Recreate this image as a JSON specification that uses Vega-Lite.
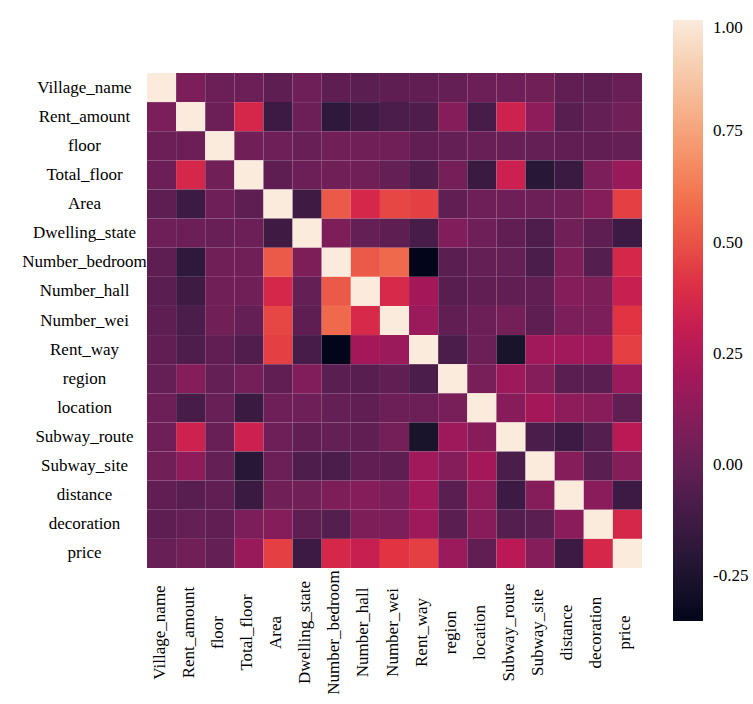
{
  "$schema": "https://vega.github.io/schema/vega-lite/v6.json",
  "width": 495,
  "height": 495,
  "autosize": {"type": "none"},
  "padding": {"left": 147, "top": 73, "right": 111, "bottom": 136},
  "background": "white",
  "data": {
    "values": [
      {"row": "Village_name", "col": "Village_name", "r": 1},
      {"row": "Village_name", "col": "Rent_amount", "r": 0.07},
      {"row": "Village_name", "col": "floor", "r": 0.02},
      {"row": "Village_name", "col": "Total_floor", "r": 0.02},
      {"row": "Village_name", "col": "Area", "r": -0.02},
      {"row": "Village_name", "col": "Dwelling_state", "r": 0.03},
      {"row": "Village_name", "col": "Number_bedroom", "r": -0.02},
      {"row": "Village_name", "col": "Number_hall", "r": -0.03},
      {"row": "Village_name", "col": "Number_wei", "r": -0.02},
      {"row": "Village_name", "col": "Rent_way", "r": -0.01},
      {"row": "Village_name", "col": "region", "r": 0.0},
      {"row": "Village_name", "col": "location", "r": 0.02},
      {"row": "Village_name", "col": "Subway_route", "r": 0.03},
      {"row": "Village_name", "col": "Subway_site", "r": 0.04},
      {"row": "Village_name", "col": "distance", "r": -0.01},
      {"row": "Village_name", "col": "decoration", "r": -0.02},
      {"row": "Village_name", "col": "price", "r": 0.01},

      {"row": "Rent_amount", "col": "Village_name", "r": 0.07},
      {"row": "Rent_amount", "col": "Rent_amount", "r": 1},
      {"row": "Rent_amount", "col": "floor", "r": 0.02},
      {"row": "Rent_amount", "col": "Total_floor", "r": 0.37},
      {"row": "Rent_amount", "col": "Area", "r": -0.13},
      {"row": "Rent_amount", "col": "Dwelling_state", "r": 0.02},
      {"row": "Rent_amount", "col": "Number_bedroom", "r": -0.18},
      {"row": "Rent_amount", "col": "Number_hall", "r": -0.12},
      {"row": "Rent_amount", "col": "Number_wei", "r": -0.08},
      {"row": "Rent_amount", "col": "Rent_way", "r": -0.07},
      {"row": "Rent_amount", "col": "region", "r": 0.1},
      {"row": "Rent_amount", "col": "location", "r": -0.09},
      {"row": "Rent_amount", "col": "Subway_route", "r": 0.34},
      {"row": "Rent_amount", "col": "Subway_site", "r": 0.13},
      {"row": "Rent_amount", "col": "distance", "r": -0.04},
      {"row": "Rent_amount", "col": "decoration", "r": 0.0},
      {"row": "Rent_amount", "col": "price", "r": 0.04},

      {"row": "floor", "col": "Village_name", "r": 0.02},
      {"row": "floor", "col": "Rent_amount", "r": 0.02},
      {"row": "floor", "col": "floor", "r": 1},
      {"row": "floor", "col": "Total_floor", "r": 0.04},
      {"row": "floor", "col": "Area", "r": 0.03},
      {"row": "floor", "col": "Dwelling_state", "r": 0.01},
      {"row": "floor", "col": "Number_bedroom", "r": 0.04},
      {"row": "floor", "col": "Number_hall", "r": 0.04},
      {"row": "floor", "col": "Number_wei", "r": 0.04},
      {"row": "floor", "col": "Rent_way", "r": -0.01},
      {"row": "floor", "col": "region", "r": 0.0},
      {"row": "floor", "col": "location", "r": 0.01},
      {"row": "floor", "col": "Subway_route", "r": 0.01},
      {"row": "floor", "col": "Subway_site", "r": 0.0},
      {"row": "floor", "col": "distance", "r": -0.01},
      {"row": "floor", "col": "decoration", "r": -0.01},
      {"row": "floor", "col": "price", "r": 0.0},

      {"row": "Total_floor", "col": "Village_name", "r": 0.02},
      {"row": "Total_floor", "col": "Rent_amount", "r": 0.37},
      {"row": "Total_floor", "col": "floor", "r": 0.04},
      {"row": "Total_floor", "col": "Total_floor", "r": 1},
      {"row": "Total_floor", "col": "Area", "r": -0.02},
      {"row": "Total_floor", "col": "Dwelling_state", "r": 0.02},
      {"row": "Total_floor", "col": "Number_bedroom", "r": 0.04},
      {"row": "Total_floor", "col": "Number_hall", "r": 0.04},
      {"row": "Total_floor", "col": "Number_wei", "r": 0.0},
      {"row": "Total_floor", "col": "Rent_way", "r": -0.06},
      {"row": "Total_floor", "col": "region", "r": 0.05},
      {"row": "Total_floor", "col": "location", "r": -0.14},
      {"row": "Total_floor", "col": "Subway_route", "r": 0.33},
      {"row": "Total_floor", "col": "Subway_site", "r": -0.2},
      {"row": "Total_floor", "col": "distance", "r": -0.14},
      {"row": "Total_floor", "col": "decoration", "r": 0.07},
      {"row": "Total_floor", "col": "price", "r": 0.16},

      {"row": "Area", "col": "Village_name", "r": -0.02},
      {"row": "Area", "col": "Rent_amount", "r": -0.13},
      {"row": "Area", "col": "floor", "r": 0.03},
      {"row": "Area", "col": "Total_floor", "r": -0.02},
      {"row": "Area", "col": "Area", "r": 1},
      {"row": "Area", "col": "Dwelling_state", "r": -0.12},
      {"row": "Area", "col": "Number_bedroom", "r": 0.52},
      {"row": "Area", "col": "Number_hall", "r": 0.37},
      {"row": "Area", "col": "Number_wei", "r": 0.47},
      {"row": "Area", "col": "Rent_way", "r": 0.45},
      {"row": "Area", "col": "region", "r": -0.01},
      {"row": "Area", "col": "location", "r": 0.03},
      {"row": "Area", "col": "Subway_route", "r": 0.03},
      {"row": "Area", "col": "Subway_site", "r": 0.02},
      {"row": "Area", "col": "distance", "r": 0.04},
      {"row": "Area", "col": "decoration", "r": 0.1},
      {"row": "Area", "col": "price", "r": 0.45},

      {"row": "Dwelling_state", "col": "Village_name", "r": 0.03},
      {"row": "Dwelling_state", "col": "Rent_amount", "r": 0.02},
      {"row": "Dwelling_state", "col": "floor", "r": 0.01},
      {"row": "Dwelling_state", "col": "Total_floor", "r": 0.02},
      {"row": "Dwelling_state", "col": "Area", "r": -0.12},
      {"row": "Dwelling_state", "col": "Dwelling_state", "r": 1},
      {"row": "Dwelling_state", "col": "Number_bedroom", "r": 0.08},
      {"row": "Dwelling_state", "col": "Number_hall", "r": 0.0},
      {"row": "Dwelling_state", "col": "Number_wei", "r": -0.02},
      {"row": "Dwelling_state", "col": "Rent_way", "r": -0.09},
      {"row": "Dwelling_state", "col": "region", "r": 0.09},
      {"row": "Dwelling_state", "col": "location", "r": 0.03},
      {"row": "Dwelling_state", "col": "Subway_route", "r": -0.01},
      {"row": "Dwelling_state", "col": "Subway_site", "r": -0.07},
      {"row": "Dwelling_state", "col": "distance", "r": 0.04},
      {"row": "Dwelling_state", "col": "decoration", "r": -0.02},
      {"row": "Dwelling_state", "col": "price", "r": -0.13},

      {"row": "Number_bedroom", "col": "Village_name", "r": -0.02},
      {"row": "Number_bedroom", "col": "Rent_amount", "r": -0.18},
      {"row": "Number_bedroom", "col": "floor", "r": 0.04},
      {"row": "Number_bedroom", "col": "Total_floor", "r": 0.04},
      {"row": "Number_bedroom", "col": "Area", "r": 0.52},
      {"row": "Number_bedroom", "col": "Dwelling_state", "r": 0.08},
      {"row": "Number_bedroom", "col": "Number_bedroom", "r": 1},
      {"row": "Number_bedroom", "col": "Number_hall", "r": 0.52},
      {"row": "Number_bedroom", "col": "Number_wei", "r": 0.57},
      {"row": "Number_bedroom", "col": "Rent_way", "r": -0.35},
      {"row": "Number_bedroom", "col": "region", "r": -0.03},
      {"row": "Number_bedroom", "col": "location", "r": 0.0},
      {"row": "Number_bedroom", "col": "Subway_route", "r": 0.0},
      {"row": "Number_bedroom", "col": "Subway_site", "r": -0.08},
      {"row": "Number_bedroom", "col": "distance", "r": 0.08},
      {"row": "Number_bedroom", "col": "decoration", "r": -0.05},
      {"row": "Number_bedroom", "col": "price", "r": 0.37},

      {"row": "Number_hall", "col": "Village_name", "r": -0.03},
      {"row": "Number_hall", "col": "Rent_amount", "r": -0.12},
      {"row": "Number_hall", "col": "floor", "r": 0.04},
      {"row": "Number_hall", "col": "Total_floor", "r": 0.04},
      {"row": "Number_hall", "col": "Area", "r": 0.37},
      {"row": "Number_hall", "col": "Dwelling_state", "r": 0.0},
      {"row": "Number_hall", "col": "Number_bedroom", "r": 0.52},
      {"row": "Number_hall", "col": "Number_hall", "r": 1},
      {"row": "Number_hall", "col": "Number_wei", "r": 0.38},
      {"row": "Number_hall", "col": "Rent_way", "r": 0.2},
      {"row": "Number_hall", "col": "region", "r": -0.04},
      {"row": "Number_hall", "col": "location", "r": -0.01},
      {"row": "Number_hall", "col": "Subway_route", "r": -0.01},
      {"row": "Number_hall", "col": "Subway_site", "r": -0.01},
      {"row": "Number_hall", "col": "distance", "r": 0.1},
      {"row": "Number_hall", "col": "decoration", "r": 0.08},
      {"row": "Number_hall", "col": "price", "r": 0.32},

      {"row": "Number_wei", "col": "Village_name", "r": -0.02},
      {"row": "Number_wei", "col": "Rent_amount", "r": -0.08},
      {"row": "Number_wei", "col": "floor", "r": 0.04},
      {"row": "Number_wei", "col": "Total_floor", "r": 0.0},
      {"row": "Number_wei", "col": "Area", "r": 0.47},
      {"row": "Number_wei", "col": "Dwelling_state", "r": -0.02},
      {"row": "Number_wei", "col": "Number_bedroom", "r": 0.57},
      {"row": "Number_wei", "col": "Number_hall", "r": 0.38},
      {"row": "Number_wei", "col": "Number_wei", "r": 1},
      {"row": "Number_wei", "col": "Rent_way", "r": 0.17},
      {"row": "Number_wei", "col": "region", "r": -0.01},
      {"row": "Number_wei", "col": "location", "r": 0.02},
      {"row": "Number_wei", "col": "Subway_route", "r": 0.05},
      {"row": "Number_wei", "col": "Subway_site", "r": -0.02},
      {"row": "Number_wei", "col": "distance", "r": 0.07},
      {"row": "Number_wei", "col": "decoration", "r": 0.07},
      {"row": "Number_wei", "col": "price", "r": 0.42},

      {"row": "Rent_way", "col": "Village_name", "r": -0.01},
      {"row": "Rent_way", "col": "Rent_amount", "r": -0.07},
      {"row": "Rent_way", "col": "floor", "r": -0.01},
      {"row": "Rent_way", "col": "Total_floor", "r": -0.06},
      {"row": "Rent_way", "col": "Area", "r": 0.45},
      {"row": "Rent_way", "col": "Dwelling_state", "r": -0.09},
      {"row": "Rent_way", "col": "Number_bedroom", "r": -0.35},
      {"row": "Rent_way", "col": "Number_hall", "r": 0.2},
      {"row": "Rent_way", "col": "Number_wei", "r": 0.17},
      {"row": "Rent_way", "col": "Rent_way", "r": 1},
      {"row": "Rent_way", "col": "region", "r": -0.08},
      {"row": "Rent_way", "col": "location", "r": 0.02},
      {"row": "Rent_way", "col": "Subway_route", "r": -0.26},
      {"row": "Rent_way", "col": "Subway_site", "r": 0.19},
      {"row": "Rent_way", "col": "distance", "r": 0.19},
      {"row": "Rent_way", "col": "decoration", "r": 0.18},
      {"row": "Rent_way", "col": "price", "r": 0.45},

      {"row": "region", "col": "Village_name", "r": 0.0},
      {"row": "region", "col": "Rent_amount", "r": 0.1},
      {"row": "region", "col": "floor", "r": 0.0},
      {"row": "region", "col": "Total_floor", "r": 0.05},
      {"row": "region", "col": "Area", "r": -0.01},
      {"row": "region", "col": "Dwelling_state", "r": 0.09},
      {"row": "region", "col": "Number_bedroom", "r": -0.03},
      {"row": "region", "col": "Number_hall", "r": -0.04},
      {"row": "region", "col": "Number_wei", "r": -0.01},
      {"row": "region", "col": "Rent_way", "r": -0.08},
      {"row": "region", "col": "region", "r": 1},
      {"row": "region", "col": "location", "r": 0.06},
      {"row": "region", "col": "Subway_route", "r": 0.18},
      {"row": "region", "col": "Subway_site", "r": 0.1},
      {"row": "region", "col": "distance", "r": -0.03},
      {"row": "region", "col": "decoration", "r": -0.03},
      {"row": "region", "col": "price", "r": 0.17},

      {"row": "location", "col": "Village_name", "r": 0.02},
      {"row": "location", "col": "Rent_amount", "r": -0.09},
      {"row": "location", "col": "floor", "r": 0.01},
      {"row": "location", "col": "Total_floor", "r": -0.14},
      {"row": "location", "col": "Area", "r": 0.03},
      {"row": "location", "col": "Dwelling_state", "r": 0.03},
      {"row": "location", "col": "Number_bedroom", "r": 0.0},
      {"row": "location", "col": "Number_hall", "r": -0.01},
      {"row": "location", "col": "Number_wei", "r": 0.02},
      {"row": "location", "col": "Rent_way", "r": 0.02},
      {"row": "location", "col": "region", "r": 0.06},
      {"row": "location", "col": "location", "r": 1},
      {"row": "location", "col": "Subway_route", "r": 0.11},
      {"row": "location", "col": "Subway_site", "r": 0.2},
      {"row": "location", "col": "distance", "r": 0.13},
      {"row": "location", "col": "decoration", "r": 0.11},
      {"row": "location", "col": "price", "r": -0.01},

      {"row": "Subway_route", "col": "Village_name", "r": 0.03},
      {"row": "Subway_route", "col": "Rent_amount", "r": 0.34},
      {"row": "Subway_route", "col": "floor", "r": 0.01},
      {"row": "Subway_route", "col": "Total_floor", "r": 0.33},
      {"row": "Subway_route", "col": "Area", "r": 0.03},
      {"row": "Subway_route", "col": "Dwelling_state", "r": -0.01},
      {"row": "Subway_route", "col": "Number_bedroom", "r": 0.0},
      {"row": "Subway_route", "col": "Number_hall", "r": -0.01},
      {"row": "Subway_route", "col": "Number_wei", "r": 0.05},
      {"row": "Subway_route", "col": "Rent_way", "r": -0.26},
      {"row": "Subway_route", "col": "region", "r": 0.18},
      {"row": "Subway_route", "col": "location", "r": 0.11},
      {"row": "Subway_route", "col": "Subway_route", "r": 1},
      {"row": "Subway_route", "col": "Subway_site", "r": -0.08},
      {"row": "Subway_route", "col": "distance", "r": -0.13},
      {"row": "Subway_route", "col": "decoration", "r": -0.05},
      {"row": "Subway_route", "col": "price", "r": 0.27},

      {"row": "Subway_site", "col": "Village_name", "r": 0.04},
      {"row": "Subway_site", "col": "Rent_amount", "r": 0.13},
      {"row": "Subway_site", "col": "floor", "r": 0.0},
      {"row": "Subway_site", "col": "Total_floor", "r": -0.2},
      {"row": "Subway_site", "col": "Area", "r": 0.02},
      {"row": "Subway_site", "col": "Dwelling_state", "r": -0.07},
      {"row": "Subway_site", "col": "Number_bedroom", "r": -0.08},
      {"row": "Subway_site", "col": "Number_hall", "r": -0.01},
      {"row": "Subway_site", "col": "Number_wei", "r": -0.02},
      {"row": "Subway_site", "col": "Rent_way", "r": 0.19},
      {"row": "Subway_site", "col": "region", "r": 0.1},
      {"row": "Subway_site", "col": "location", "r": 0.2},
      {"row": "Subway_site", "col": "Subway_route", "r": -0.08},
      {"row": "Subway_site", "col": "Subway_site", "r": 1},
      {"row": "Subway_site", "col": "distance", "r": 0.1},
      {"row": "Subway_site", "col": "decoration", "r": -0.03},
      {"row": "Subway_site", "col": "price", "r": 0.1},

      {"row": "distance", "col": "Village_name", "r": -0.01},
      {"row": "distance", "col": "Rent_amount", "r": -0.04},
      {"row": "distance", "col": "floor", "r": -0.01},
      {"row": "distance", "col": "Total_floor", "r": -0.14},
      {"row": "distance", "col": "Area", "r": 0.04},
      {"row": "distance", "col": "Dwelling_state", "r": 0.04},
      {"row": "distance", "col": "Number_bedroom", "r": 0.08},
      {"row": "distance", "col": "Number_hall", "r": 0.1},
      {"row": "distance", "col": "Number_wei", "r": 0.07},
      {"row": "distance", "col": "Rent_way", "r": 0.19},
      {"row": "distance", "col": "region", "r": -0.03},
      {"row": "distance", "col": "location", "r": 0.13},
      {"row": "distance", "col": "Subway_route", "r": -0.13},
      {"row": "distance", "col": "Subway_site", "r": 0.1},
      {"row": "distance", "col": "distance", "r": 1},
      {"row": "distance", "col": "decoration", "r": 0.12},
      {"row": "distance", "col": "price", "r": -0.13},

      {"row": "decoration", "col": "Village_name", "r": -0.02},
      {"row": "decoration", "col": "Rent_amount", "r": 0.0},
      {"row": "decoration", "col": "floor", "r": -0.01},
      {"row": "decoration", "col": "Total_floor", "r": 0.07},
      {"row": "decoration", "col": "Area", "r": 0.1},
      {"row": "decoration", "col": "Dwelling_state", "r": -0.02},
      {"row": "decoration", "col": "Number_bedroom", "r": -0.05},
      {"row": "decoration", "col": "Number_hall", "r": 0.08},
      {"row": "decoration", "col": "Number_wei", "r": 0.07},
      {"row": "decoration", "col": "Rent_way", "r": 0.18},
      {"row": "decoration", "col": "region", "r": -0.03},
      {"row": "decoration", "col": "location", "r": 0.11},
      {"row": "decoration", "col": "Subway_route", "r": -0.05},
      {"row": "decoration", "col": "Subway_site", "r": -0.03},
      {"row": "decoration", "col": "distance", "r": 0.12},
      {"row": "decoration", "col": "decoration", "r": 1},
      {"row": "decoration", "col": "price", "r": 0.37},

      {"row": "price", "col": "Village_name", "r": 0.01},
      {"row": "price", "col": "Rent_amount", "r": 0.04},
      {"row": "price", "col": "floor", "r": 0.0},
      {"row": "price", "col": "Total_floor", "r": 0.16},
      {"row": "price", "col": "Area", "r": 0.45},
      {"row": "price", "col": "Dwelling_state", "r": -0.13},
      {"row": "price", "col": "Number_bedroom", "r": 0.37},
      {"row": "price", "col": "Number_hall", "r": 0.32},
      {"row": "price", "col": "Number_wei", "r": 0.42},
      {"row": "price", "col": "Rent_way", "r": 0.45},
      {"row": "price", "col": "region", "r": 0.17},
      {"row": "price", "col": "location", "r": -0.01},
      {"row": "price", "col": "Subway_route", "r": 0.27},
      {"row": "price", "col": "Subway_site", "r": 0.1},
      {"row": "price", "col": "distance", "r": -0.13},
      {"row": "price", "col": "decoration", "r": 0.37},
      {"row": "price", "col": "price", "r": 1}
    ]
  },
  "mark": {"type": "rect"},
  "encoding": {
    "x": {
      "field": "col",
      "type": "nominal",
      "sort": ["Village_name", "Rent_amount", "floor", "Total_floor", "Area", "Dwelling_state", "Number_bedroom", "Number_hall", "Number_wei", "Rent_way", "region", "location", "Subway_route", "Subway_site", "distance", "decoration", "price"],
      "scale": {"paddingInner": 0, "paddingOuter": 0},
      "axis": {
        "title": null,
        "domain": false,
        "ticks": false,
        "tickSize": 0,
        "labelAngle": 270,
        "labelAlign": "center",
        "labelBaseline": "middle",
        "labelPadding": 64,
        "labelOffset": -2,
        "labelFont": "Liberation Serif",
        "labelFontSize": 17,
        "labelColor": "#000000",
        "labelOverlap": false
      }
    },
    "y": {
      "field": "row",
      "type": "nominal",
      "sort": ["Village_name", "Rent_amount", "floor", "Total_floor", "Area", "Dwelling_state", "Number_bedroom", "Number_hall", "Number_wei", "Rent_way", "region", "location", "Subway_route", "Subway_site", "distance", "decoration", "price"],
      "scale": {"paddingInner": 0, "paddingOuter": 0},
      "axis": {
        "title": null,
        "domain": false,
        "ticks": false,
        "tickSize": 0,
        "labelAlign": "center",
        "labelBaseline": "middle",
        "labelPadding": 63,
        "labelFont": "Liberation Serif",
        "labelFontSize": 17,
        "labelColor": "#000000",
        "labelOverlap": false
      }
    },
    "color": {
      "field": "r",
      "type": "quantitative",
      "scale": {
        "domain": [-0.35, -0.15714, 0.03571, 0.22857, 0.42143, 0.61429, 0.80714, 1.0],
        "range": ["#03051a", "#35193e", "#701f57", "#ad1759", "#e13342", "#f37651", "#f6b48f", "#faebdd"]
      },
      "legend": {
        "orient": "none",
        "legendX": 526,
        "legendY": -53,
        "direction": "vertical",
        "title": null,
        "padding": 0,
        "gradientLength": 601,
        "gradientThickness": 30,
        "gradientStrokeWidth": 0,
        "values": [-0.25, 0, 0.25, 0.5, 0.75, 1],
        "labelExpr": "replace(format(datum.value, '.2f'), '−', '-')",
        "labelOffset": 10,
        "labelBaseline": "middle",
        "labelFont": "Liberation Serif",
        "labelFontSize": 17,
        "labelColor": "#000000",
        "labelOverlap": false
      }
    }
  },
  "config": {"view": {"stroke": null}}
}
